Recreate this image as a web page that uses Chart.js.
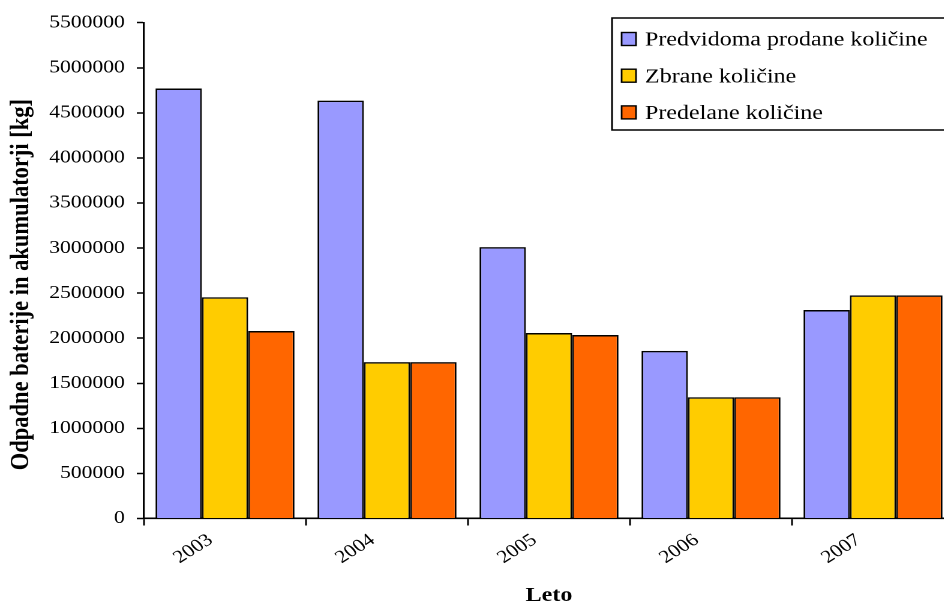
<!DOCTYPE html>
<html>
<head>
<meta charset="utf-8">
<script src="https://cdn.jsdelivr.net/npm/chart.js@4"></script>
<style>
  html, body { margin: 0; padding: 0; background: #fff; overflow: hidden; }
  #frame { width: 944px; height: 609px; overflow: hidden; position: relative; background: #fff; }
  /* the chart is laid out narrow and widened horizontally */
  #stretch { position: absolute; left: 0; top: 0; width: 800px; height: 609px; transform: scaleX(1.2); transform-origin: 0 0; }
</style>
</head>
<body>
<div id="frame"><div id="stretch"><canvas id="c" width="800" height="609"></canvas></div></div>
<script>
// Odpadne baterije in akumulatorji po letih [kg]
const years = ['2003', '2004', '2005', '2006', '2007'];
const seriesNames = ['Predvidoma prodane količine', 'Zbrane količine', 'Predelane količine'];
const predvidoma = [4770000, 4635000, 3010000, 1860000, 2313000];
const zbrane     = [2455000, 1735000, 2058000, 1345000, 2475000];
const predelane  = [2080000, 1735000, 2036000, 1345000, 2475000];
const yTickValues = [0, 500000, 1000000, 1500000, 2000000, 2500000, 3000000,
                     3500000, 4000000, 4500000, 5000000, 5500000];
const seriesColors = ['#9999FF', '#FFCC00', '#FF6600'];
const yTitle = 'Odpadne baterije in akumulatorji [kg]';
const xTitle = 'Leto';

const FONT = '"Liberation Serif", "Times New Roman", serif';
Chart.defaults.font.family = FONT;
Chart.defaults.color = '#000';

// framed legend in the upper right corner
const boxLegend = {
  id: 'boxLegend',
  afterDraw(chart) {
    const ctx = chart.ctx;
    ctx.save();
    ctx.lineWidth = 1.5;
    ctx.strokeStyle = '#000';
    ctx.fillStyle = '#fff';
    ctx.fillRect(510, 18, 282, 112);
    ctx.strokeRect(510, 18, 282, 112);
    ctx.font = '20px ' + FONT;
    ctx.textBaseline = 'alphabetic';
    ctx.textAlign = 'left';
    chart.data.datasets.forEach((ds, i) => {
      const cy = 39 + i * 36.7;
      ctx.fillStyle = ds.backgroundColor;
      ctx.fillRect(518, cy - 6.5, 12, 13);
      ctx.lineWidth = 1.4;
      ctx.strokeRect(518, cy - 6.5, 12, 13);
      ctx.fillStyle = '#000';
      ctx.fillText(ds.label, 537.5, cy + 6.7);
    });
    ctx.restore();
  }
};

// vertical value-axis title, sitting slightly below the plot's middle
const valueAxisTitle = {
  id: 'valueAxisTitle',
  afterDraw(chart) {
    const ctx = chart.ctx;
    const area = chart.chartArea;
    ctx.save();
    ctx.translate(17.5, (area.top + area.bottom) / 2 + 14);
    ctx.rotate(-Math.PI / 2);
    ctx.font = 'bold 22.5px ' + FONT;
    ctx.fillStyle = '#000';
    ctx.textAlign = 'center';
    ctx.textBaseline = 'middle';
    ctx.fillText(yTitle, 0, 0);
    ctx.restore();
  }
};

const values = [predvidoma, zbrane, predelane];

new Chart(document.getElementById('c'), {
  type: 'bar',
  data: {
    labels: years,
    datasets: seriesNames.map((name, i) => ({
      label: name,
      data: values[i],
      backgroundColor: seriesColors[i],
      borderColor: '#000',
      borderWidth: 1.5,
      categoryPercentage: 0.858,
      barPercentage: 1.0
    }))
  },
  options: {
    responsive: false,
    animation: false,
    devicePixelRatio: 2,
    layout: { padding: { top: 22.7, right: 5, bottom: 0, left: 0 } },
    plugins: {
      legend: { display: false },
      tooltip: { enabled: false }
    },
    scales: {
      x: {
        offset: true,
        afterFit: (s) => { s.height = 90.5; },
        grid: {
          offset: true,
          drawOnChartArea: false,
          drawTicks: true,
          tickLength: 7,
          color: '#000',
          tickColor: '#000',
          tickWidth: 1.5
        },
        border: { display: true, color: '#000', width: 1.6 },
        ticks: {
          autoSkip: false,
          minRotation: 37,
          maxRotation: 37,
          labelOffset: -12,
          padding: 4,
          color: '#000',
          font: { size: 18 }
        },
        title: {
          display: true,
          text: xTitle,
          color: '#000',
          font: { size: 20, weight: 'bold' },
          padding: { top: 0, bottom: 1 }
        }
      },
      y: {
        min: 0,
        max: 5500000,
        afterFit: (s) => { s.width = 120; },
        afterBuildTicks: (s) => { s.ticks = yTickValues.map(v => ({ value: v })); },
        grid: {
          drawOnChartArea: false,
          drawTicks: true,
          tickLength: 6,
          color: '#000',
          tickColor: '#000',
          tickWidth: 1.5
        },
        border: { display: true, color: '#000', width: 1.6 },
        ticks: {
          padding: 10,
          color: '#000',
          font: { size: 18 },
          callback: (v) => String(v)
        },
        title: { display: false }
      }
    }
  },
  plugins: [boxLegend, valueAxisTitle]
});
</script>
</body>
</html>
